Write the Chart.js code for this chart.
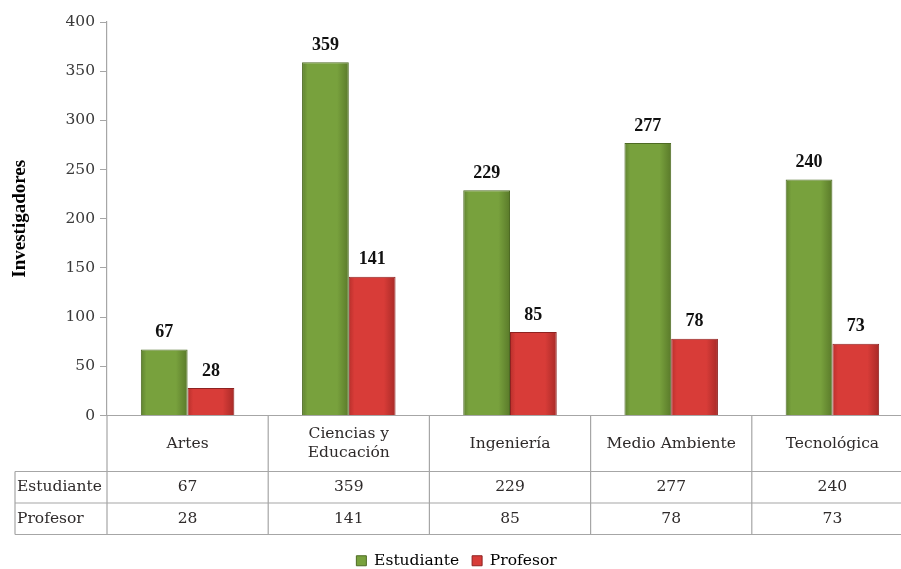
<!DOCTYPE html>
<html lang="es">
<head>
    <meta charset="UTF-8">
    <title>Investigadores por área</title>
    <style>
        html, body { margin: 0; padding: 0; background: #fff; overflow: hidden; }
        #wrap { width: 914px; height: 569px; }
    </style>
</head>
<body>

    <div id="wrap">
        <canvas id="myChart" width="914" height="569"></canvas>
    </div>

    <script src="https://cdn.jsdelivr.net/npm/chart.js@4/dist/chart.umd.min.js"></script>

    <script>
        var categories = [['Artes'], ['Ciencias y', 'Educación'], ['Ingeniería'], ['Medio Ambiente'], ['Tecnológica']];
        var estudiante = [67, 359, 229, 277, 240];
        var profesor = [28, 141, 85, 78, 73];
        var seriesNames = ['Estudiante', 'Profesor'];
        var yTicks = [0, 50, 100, 150, 200, 250, 300, 350, 400];

        var SERIF = '"Liberation Serif", "DejaVu Serif", serif';
        var TEXT_FONT = '"DejaVu Serif", serif';
        var CAT_PCT = 0.58;
        var LEGEND_PAD = 13;
        var LEGEND_Y = 561;   // centre line of the legend text
        var ROW_LABEL_X = 15;

        // horizontal gradient across each bar, like the Excel bevel
        function barFill(stops, side) {
            return function (ctx) {
                var chart = ctx.chart;
                var x = chart.scales && chart.scales.x;
                if (!x || !chart.chartArea || ctx.dataIndex === undefined) return stops[1];
                var center = x.getPixelForValue(ctx.dataIndex);
                var w = (x.right - x.left) / categories.length * CAT_PCT / 2;
                var x0 = side === 0 ? center - w : center;
                var g = chart.ctx.createLinearGradient(x0, 0, x0 + w, 0);
                g.addColorStop(0, stops[0]);
                g.addColorStop(0.12, stops[1]);
                g.addColorStop(0.75, stops[1]);
                g.addColorStop(1, stops[2]);
                return g;
            };
        }

        var valueLabels = {
            id: 'valueLabels',
            afterDatasetsDraw: function (chart) {
                var c = chart.ctx;
                c.save();
                c.font = 'bold 18px ' + SERIF;
                c.fillStyle = '#111';
                c.textAlign = 'center';
                c.textBaseline = 'bottom';
                chart.data.datasets.forEach(function (ds, di) {
                    chart.getDatasetMeta(di).data.forEach(function (bar, i) {
                        c.fillText(ds.data[i], bar.x, bar.y - 8);
                    });
                });
                c.restore();
            }
        };

        // push the legend down to the bottom edge, as in the original
        var legendShift = {
            id: 'legendShift',
            afterLayout: function (chart) {
                var l = chart.legend;
                var dy = LEGEND_Y - (l.top + LEGEND_PAD + 8);
                l.top += dy;
                l.bottom += dy;
            }
        };

        var dataTable = {
            id: 'dataTable',
            afterDraw: function (chart) {
                var c = chart.ctx;
                var x = chart.scales.x;
                var top = chart.chartArea.bottom;
                var headH = 56, rowH = 31.5;
                var r1 = top + headH, r2 = r1 + rowH, r3 = r2 + rowH;
                var colW = (x.right - x.left) / categories.length;
                c.save();
                c.strokeStyle = '#a6a6a6';
                c.lineWidth = 1.2;
                c.beginPath();
                c.moveTo(x.left, top); c.lineTo(x.right, top);
                [r1, r2, r3].forEach(function (y) { c.moveTo(ROW_LABEL_X, y); c.lineTo(x.right, y); });
                c.moveTo(ROW_LABEL_X, r1); c.lineTo(ROW_LABEL_X, r3);
                for (var i = 0; i <= categories.length; i++) {
                    var xx = x.left + colW * i;
                    c.moveTo(xx, top); c.lineTo(xx, r3);
                }
                c.stroke();

                c.fillStyle = '#2e2a2a';
                c.font = '15.5px ' + TEXT_FONT;
                c.textBaseline = 'middle';
                c.textAlign = 'center';
                categories.forEach(function (lines, i) {
                    var cx = x.left + colW * (i + 0.5);
                    var y0 = top + headH / 2 - (lines.length - 1) * 9.5;
                    lines.forEach(function (t, k) { c.fillText(t, cx, y0 + k * 19); });
                    c.fillText(estudiante[i], cx, r1 + rowH / 2);
                    c.fillText(profesor[i], cx, r2 + rowH / 2);
                });
                c.textAlign = 'left';
                c.fillText(seriesNames[0], ROW_LABEL_X + 2, r1 + rowH / 2);
                c.fillText(seriesNames[1], ROW_LABEL_X + 2, r2 + rowH / 2);
                c.restore();
            }
        };

        var ctx = document.getElementById('myChart').getContext('2d');
        var myChart = new Chart(ctx, {
            type: 'bar',
            data: {
                labels: categories,
                datasets: [
                    {
                        label: seriesNames[0],
                        data: estudiante,
                        backgroundColor: barFill(['#5f8230', '#78a13d', '#5a7a2a'], 0),
                        borderColor: '#4e6b24',
                        borderWidth: 1,
                        categoryPercentage: CAT_PCT,
                        barPercentage: 1
                    },
                    {
                        label: seriesNames[1],
                        data: profesor,
                        backgroundColor: barFill(['#b8302c', '#d83c38', '#a82a27'], 1),
                        borderColor: '#8e2220',
                        borderWidth: 1,
                        categoryPercentage: CAT_PCT,
                        barPercentage: 1
                    }
                ]
            },
            options: {
                responsive: false,
                animation: false,
                layout: { padding: { top: 22, left: 0, right: 1, bottom: 0 } },
                plugins: {
                    tooltip: { enabled: false },
                    legend: {
                        position: 'bottom',
                        labels: {
                            font: { family: TEXT_FONT, size: 15.5 },
                            color: '#2e2a2a',
                            boxWidth: 10,
                            boxHeight: 10,
                            padding: LEGEND_PAD,
                            generateLabels: function (chart) {
                                return [
                                    { text: seriesNames[0], fillStyle: '#78a13d', strokeStyle: '#4e6b24', lineWidth: 1, datasetIndex: 0 },
                                    { text: seriesNames[1], fillStyle: '#d83c38', strokeStyle: '#8e2220', lineWidth: 1, datasetIndex: 1 }
                                ];
                            }
                        }
                    }
                },
                scales: {
                    x: {
                        ticks: { display: false },
                        grid: { display: false },
                        border: { display: false },
                        afterFit: function (s) { s.height = 115; }
                    },
                    y: {
                        min: 0,
                        max: 400,
                        afterBuildTicks: function (s) { s.ticks = yTicks.map(function (v) { return { value: v }; }); },
                        afterFit: function (s) { s.width = 107; },
                        ticks: {
                            font: { family: TEXT_FONT, size: 15.5 },
                            color: '#3a3a3a',
                            padding: 5
                        },
                        grid: { display: true, drawOnChartArea: false, drawTicks: true, tickLength: 7, color: '#a6a6a6' },
                        border: { color: '#a6a6a6', width: 1.2 },
                        title: {
                            display: true,
                            text: 'Investigadores',
                            font: { family: SERIF, size: 19, weight: 'bold' },
                            color: '#000',
                            padding: { top: 9, bottom: 0 }
                        }
                    }
                }
            },
            plugins: [valueLabels, dataTable, legendShift]
        });
    </script>

</body>
</html>
